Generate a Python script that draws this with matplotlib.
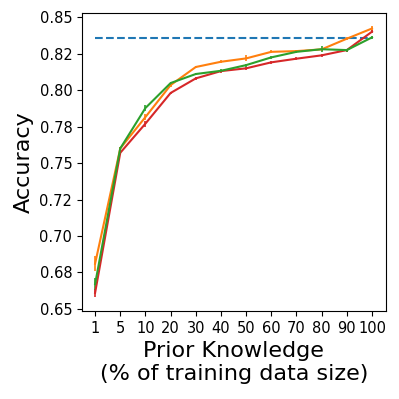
import numpy as np
import matplotlib
matplotlib.use("Agg")
import matplotlib.pyplot as plt
from matplotlib.ticker import FormatStrFormatter, MultipleLocator

# Datos
etiquetas_x = ["1", "5", "10", "20", "30", "40", "50", "60", "70", "80", "90", "100"]
referencia = 0.836  # línea discontinua

acc_naranja = [0.681, 0.760, 0.7815, 0.8034, 0.8158, 0.8194, 0.8217, 0.8262, 0.8267, 0.8279, 0.8352, 0.8422]
err_naranja = [0.005, 0.001, 0.002, 0.001, 0.001, 0.001, 0.002, 0.001, 0.001, 0.001, 0.001, 0.002]

acc_verde = [0.667, 0.760, 0.7877, 0.8048, 0.811, 0.8132, 0.8171, 0.8224, 0.8262, 0.828, 0.8274, 0.8361]
err_verde = [0.004, 0.001, 0.002, 0.001, 0.001, 0.001, 0.001, 0.001, 0.001, 0.002, 0.001, 0.001]

acc_rojo = [0.661, 0.757, 0.777, 0.798, 0.808, 0.813, 0.8149, 0.819, 0.8215, 0.8238, 0.8274, 0.840]
err_rojo = [0.003, 0.001, 0.002, 0.001, 0.001, 0.001, 0.001, 0.001, 0.001, 0.001, 0.001, 0.001]

x = np.arange(len(etiquetas_x))

fig = plt.figure(figsize=(3.99, 3.99), dpi=100)
ax = fig.add_axes([0.2055, 0.2206, 0.7615, 0.7464])

ax.plot([x[0], x[-1]], [referencia, referencia], "--", color="tab:blue", lw=1.5)
ax.errorbar(x, acc_naranja, yerr=err_naranja, color="tab:orange", lw=1.5, elinewidth=1.2)
ax.errorbar(x, acc_rojo, yerr=err_rojo, color="tab:red", lw=1.5, elinewidth=1.2)
ax.errorbar(x, acc_verde, yerr=err_verde, color="tab:green", lw=1.5, elinewidth=1.2)

ax.set_xticks(x)
ax.set_xticklabels(etiquetas_x)
ax.set_xlim(-0.52, 11.55)
ax.set_ylim(0.6486, 0.8527)
ax.yaxis.set_major_locator(MultipleLocator(0.025))
ax.yaxis.set_major_formatter(FormatStrFormatter("%.2f"))
ax.tick_params(labelsize=10.5)

ax.set_xlabel("Prior Knowledge\n(% of training data size)", fontsize=16)
ax.set_ylabel("Accuracy", fontsize=16)

fig.savefig("out.png", dpi=100)
